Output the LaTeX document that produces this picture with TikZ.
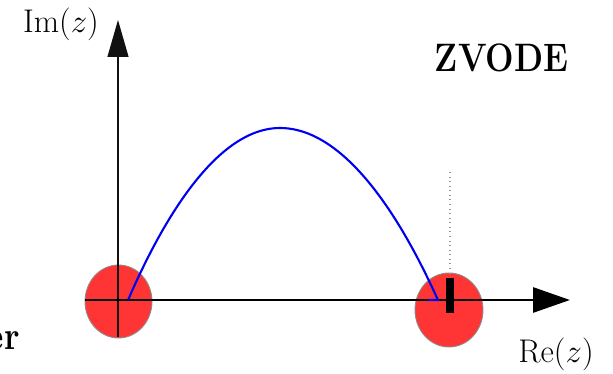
\documentclass[tikz,border=0pt]{standalone}
\usepackage{amsmath}
\usepackage{xcolor}
\usepackage{tikz}
\usetikzlibrary{arrows.meta,calc}
\definecolor{zvred}{HTML}{FF3434}
\definecolor{zvrim}{HTML}{8C8C8C}
\definecolor{zvblue}{HTML}{0000F0}
\definecolor{zvaxis}{HTML}{111111}
\definecolor{zvdots}{HTML}{9A9A9A}
\tikzset{
  axlabel/.style={font=\fontsize{17.28}{20}\selectfont,scale=1.08,anchor=base,inner sep=0pt},
  zvtitle/.style={font=\bfseries\fontsize{22.6}{26}\selectfont,xscale=.85,anchor=base,inner sep=0pt},
  zvdisk/.style={fill=zvred,draw=zvrim,line width=.5pt}
}

\begin{document}
\begin{tikzpicture}[x=1cm,y=1cm]
  \useasboundingbox (0,0) rectangle (12.26,7.48);
  \coordinate (origin) at (2.36,1.48);
  \coordinate (imtip) at (2.36,7.08);
  \coordinate (imfoot) at (2.36,.74);
  \coordinate (retail) at (1.70,1.48);
  \coordinate (retip) at (11.40,1.48);
  \coordinate (stop) at (9.00,1.48);

  \path[zvdisk] (2.37,1.45) ellipse [x radius=.67,y radius=.73];
  \path[zvdisk] (8.98,1.28) ellipse [x radius=.68,y radius=.74];

  \draw[-{Triangle[length=.74cm,width=.42cm]},draw=zvaxis,line width=.65pt] (imfoot) -- (imtip);
  \draw[-{Triangle[length=.74cm,width=.5cm]},draw=black,line width=1.7pt] (retail) -- (retip);
  \draw[dotted,draw=zvdots,line width=.6pt] ($(stop)+(0,2.56)$) -- ($(stop)+(0,.46)$);

  \draw[draw=zvblue,line width=1.2pt]
    (2.56,1.48) parabola bend (5.60,4.92) (8.76,1.48) -- (8.56,1.48);
  \draw[draw=black,line width=4pt] ($(stop)+(0,.44)$) -- ($(stop)+(0,-.26)$);

  \node[axlabel] (imlabel) at (1.22,6.82) {$\mathrm{Im}(z)$};
  \node[axlabel] (relabel) at (11.12,.22) {$\mathrm{Re}(z)$};
  \node[zvtitle] (solver) at (10.03,6.04) {ZVODE};
  \node[zvtitle,anchor=base east] (cutlabel) at (.40,.48) {er};
\end{tikzpicture}
\end{document}
